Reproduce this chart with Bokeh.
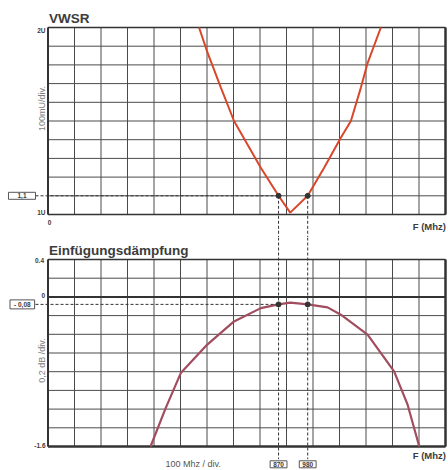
import math
from bokeh.plotting import figure
from bokeh.models import Label, Range1d
from bokeh.layouts import column
from bokeh.embed import file_html
from bokeh.resources import INLINE

# ---------------- data ----------------
freq_min, freq_max, freq_step = 0, 1500, 100          # 100 MHz / div
vswr_min, vswr_max, vswr_step = 1.0, 2.0, 0.1         # 100 mU / div
il_min, il_max, il_step = -1.6, 0.4, 0.2              # 0,2 dB / div

vswr_freq = [570, 601, 652, 702, 803, 870, 914, 980, 1042, 1105, 1143, 1181, 1206, 1256]
vswr_vals = [2.00, 1.87, 1.68, 1.50, 1.25, 1.10, 1.01, 1.10, 1.25, 1.41, 1.50, 1.68, 1.81, 2.00]

il_freq = [387, 444, 501, 601, 702, 803, 870, 914, 980, 1055, 1105, 1206, 1306, 1357, 1401]
il_vals = [-1.60, -1.19, -0.815, -0.51, -0.262, -0.12, -0.08, -0.062, -0.08, -0.112, -0.19, -0.404, -0.797, -1.153, -1.60]

marker_freqs = [870, 980]
marker_labels = ["870", "980"]
marker_vswr = 1.1
marker_vswr_label = "1,1"
marker_il = -0.08
marker_il_label = "- 0,08"

vswr_tick_labels = {2.0: "2U", 1.0: "1U"}
il_tick_labels = {0.4: "0.4", 0.0: "0", -1.6: "-1.6"}
x_tick_label = "0"

# ---------------- style / layout ----------------
FONT = "Liberation Sans"
TXT = "#3c3c3c"
GRID = "#4a4a4a"
BORDER = "#333333"
DASH = "#333333"
VSWR_COLOR = "#d9472b"
IL_COLOR = "#a24d5e"

W = 447
PLOT_L, PLOT_R = 47.5, 445.0            # pixel ends of the frequency scale
H1, TOP1, BOT1 = 237, 27.0, 214.0       # VSWR panel (pixels from page top)
H2, TOP2, BOT2 = 232, 259.0, 446.0      # insertion-loss panel
OFF2 = H1                               # page offset of the second canvas

x_grid = [freq_min + i * freq_step for i in range(int(round((freq_max - freq_min) / freq_step)) + 1)]
vswr_grid = [round(vswr_min + i * vswr_step, 3) for i in range(int(round((vswr_max - vswr_min) / vswr_step)) + 1)]
il_grid = [round(il_min + i * il_step, 3) for i in range(int(round((il_max - il_min) / il_step)) + 1)]

ppm = (PLOT_R - PLOT_L) / (freq_max - freq_min)
py1 = (BOT1 - TOP1) / (vswr_max - vswr_min)
py2 = (BOT2 - TOP2) / (il_max - il_min)


def fx(px):
    return freq_min + (px - PLOT_L) / ppm


def fy1(py):
    return vswr_max - (py - TOP1) / py1


def fy2(py):
    return il_max - (py - TOP2) / py2


def make_fig(height, y0, y1):
    p = figure(width=W, height=height, x_range=Range1d(fx(0), fx(W)), y_range=Range1d(y0, y1),
               output_backend="svg", toolbar_location=None, min_border=0,
               x_axis_location=None, y_axis_location=None)
    p.grid.visible = False
    p.outline_line_color = None
    p.background_fill_color = "white"
    p.border_fill_color = "white"
    return p


def grid(p, ylo, yhi, ygrid):
    n = len(x_grid)
    p.segment(x0=x_grid, y0=[ylo] * n, x1=x_grid, y1=[yhi] * n, line_color=GRID, line_width=1)
    m = len(ygrid)
    p.segment(x0=[freq_min] * m, y0=ygrid, x1=[freq_max] * m, y1=ygrid, line_color=GRID, line_width=1)
    # frame borders
    p.segment(x0=[freq_min], y0=[ylo], x1=[freq_min], y1=[yhi], line_color=BORDER, line_width=2)
    p.segment(x0=[freq_max], y0=[ylo], x1=[freq_max], y1=[yhi], line_color=BORDER, line_width=2.5)
    p.segment(x0=[freq_min], y0=[yhi], x1=[freq_max], y1=[yhi], line_color=BORDER, line_width=1.5)


def lab(p, fy, x_px, y_px, text, size, bold=False, align="left", baseline="alphabetic",
        color=TXT, angle=0, pad=None):
    """Place a text; x_px / y_px are pixel positions on the page (baseline for alphabetic)."""
    if baseline == "alphabetic":
        y_px -= 0.3 * size
    kw = {}
    if pad is not None:
        h, v = pad
        kw = dict(border_line_color="#555555", border_line_width=1,
                  background_fill_color="white", padding=(h, h, v, v))
    p.add_layout(Label(x=fx(x_px), y=fy(y_px), text=text, text_font=FONT,
                       text_font_size=f"{size}px",
                       text_font_style="bold" if bold else "normal", text_color=color,
                       text_align=align, text_baseline=baseline, angle=angle, **kw))


def dashed(p, x0, y0, x1, y1):
    p.segment(x0=x0, y0=y0, x1=x1, y1=y1, line_color=DASH, line_width=1, line_dash="3 2")


# ---------------- VSWR panel ----------------
p1 = make_fig(H1, fy1(H1), fy1(0))
grid(p1, vswr_min, vswr_max, vswr_grid)
p1.segment(x0=[freq_min], y0=[vswr_min], x1=[freq_max], y1=[vswr_min], line_color=BORDER, line_width=1.5)
p1.line(vswr_freq, vswr_vals, line_color=VSWR_COLOR, line_width=2)

dashed(p1, [fx(35)], [marker_vswr], [marker_freqs[0]], [marker_vswr])
dashed(p1, marker_freqs, [marker_vswr] * 2, marker_freqs, [fy1(H1 + 5)] * 2)
p1.scatter(marker_freqs, [marker_vswr] * len(marker_freqs), size=5, color="#333333")

lab(p1, fy1, 48.5, 22, "VWSR", 13.5, bold=True)
lab(p1, fy1, 45, 32.3, vswr_tick_labels[2.0], 6.5, bold=True, align="right")
lab(p1, fy1, 45, 214, vswr_tick_labels[1.0], 6.5, bold=True, align="right")
lab(p1, fy1, 49, 224, x_tick_label, 6.5, bold=True, align="center")
lab(p1, fy1, 41, 108, "100mU/div.", 9, color="#808080", align="center",
    baseline="middle", angle=math.pi / 2)
lab(p1, fy1, 445.5, 228.5, "F (Mhz)", 9.5, bold=True, align="right")
lab(p1, fy1, 21.5, BOT1 - (marker_vswr - vswr_min) * py1, marker_vswr_label, 6.5, bold=True,
    align="center", baseline="middle", pad=(9, 1))

# ---------------- insertion loss panel ----------------
p2 = make_fig(H2, fy2(OFF2 + H2), fy2(OFF2))
grid(p2, il_min, il_max, il_grid)
p2.segment(x0=[freq_min], y0=[0], x1=[freq_max], y1=[0], line_color=BORDER, line_width=2)
p2.segment(x0=[freq_min], y0=[il_min], x1=[freq_max], y1=[il_min], line_color=BORDER, line_width=2.5)
p2.line(il_freq, il_vals, line_color=IL_COLOR, line_width=2.2)

dashed(p2, [fx(35)], [marker_il], [marker_freqs[0]], [marker_il])
dashed(p2, marker_freqs, [fy2(OFF2 - 5)] * 2, marker_freqs, [fy2(458.7)] * 2)
p2.scatter(marker_freqs, [marker_il] * len(marker_freqs), size=5, color="#333333")

lab(p2, fy2, 48.5, 254.5, "Einfügungsdämpfung", 13.5, bold=True)
lab(p2, fy2, 43.5, 261.7, il_tick_labels[0.4], 6.5, bold=True, align="right")
lab(p2, fy2, 44.5, 296.7, il_tick_labels[0.0], 6.5, bold=True, align="right")
lab(p2, fy2, 45, 446.7, il_tick_labels[-1.6], 6.5, bold=True, align="right")
lab(p2, fy2, 41, 360, "0,2 dB /div.", 9, color="#808080", align="center",
    baseline="middle", angle=math.pi / 2)
lab(p2, fy2, 445.5, 457.5, "F (Mhz)", 9.5, bold=True, align="right")
lab(p2, fy2, 165, 466, "100 Mhz / div.", 9, color="#555555")
lab(p2, fy2, 21.8, TOP2 + (il_max - marker_il) * py2, marker_il_label, 6.5, bold=True,
    align="center", baseline="middle", pad=(4, 1))
for f, t in zip(marker_freqs, marker_labels):
    lab(p2, fy2, PLOT_L + (f - freq_min) * ppm, 463.8, t, 6.5, bold=True, align="center",
        baseline="middle", pad=(3, 1))

layout = column(p1, p2)
open("out.html", "w").write(file_html(layout, INLINE))
